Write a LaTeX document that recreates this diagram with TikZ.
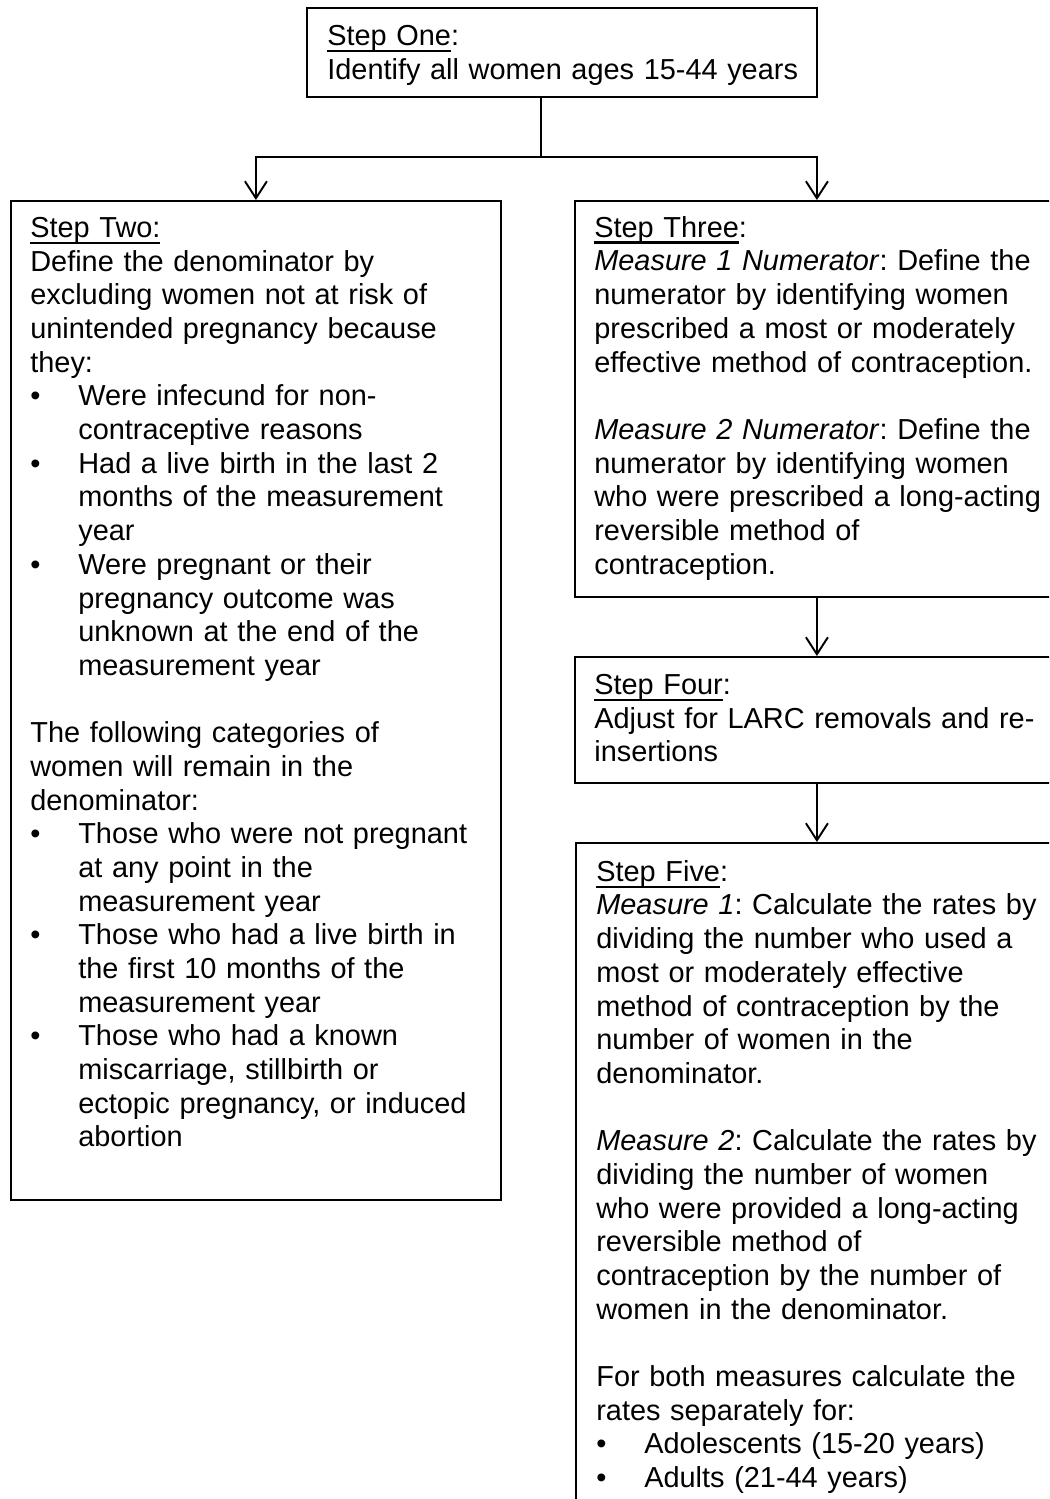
\documentclass[tikz,border=0pt]{standalone}
\usepackage{fontspec}
\setmainfont{Liberation Sans}
\usetikzlibrary{arrows.meta, positioning, calc}

\newcommand{\steplabel}[1]{\setbox0\hbox{#1}\rlap{\rule[-0.22em]{\wd0}{0.075em}}\box0}
\newcommand{\bitem}{\par\noindent\hangindent=0.96cm\hangafter=1\makebox[0.96cm][l]{\textbullet}}
\newcommand{\blankpar}{\par\vspace{\baselineskip}\noindent}

\begin{document}
\begin{tikzpicture}[
    x=0.02cm, y=-0.02cm,
    stepbox/.style={draw, line width=1.1pt, inner sep=0pt, anchor=north west},
    steptext/.style={inner sep=0pt, anchor=north west, align=left, font={\fontsize{16.45pt}{19.17pt}\selectfont\frenchspacing\setlength{\parindent}{0pt}}},
    flow/.style={-{Straight Barb[length=3.4mm, width=4.4mm]}, line width=1.1pt}
]
    \useasboundingbox (0,0) rectangle (1049,1499);
    \clip (0,0) rectangle (1049,1499);

    % Boxes
    \node[stepbox, minimum width=10.2cm, minimum height=1.78cm] (one) at (306,7) {};
    \node[stepbox, minimum width=9.8cm, minimum height=19.98cm] (two) at (10,200) {};
    \node[stepbox, minimum width=9.68cm, minimum height=7.92cm] (three) at (574,200) {};
    \node[stepbox, minimum width=9.68cm, minimum height=2.52cm] (four) at (574,656) {};
    \node[stepbox, minimum width=9.66cm, minimum height=14cm] (five) at (575,842) {};

    % Texts
    \node[steptext, text width=9.6cm] (onetext) at (327,25) {\steplabel{Step One}:\newline
        Identify all women ages 15-44 years\par};
    \node[steptext, text width=9.4cm] (twotext) at (30,217) {\steplabel{Step Two:}\newline
        Define the denominator by\newline
        excluding women not at risk of\newline
        unintended pregnancy because\newline
        they:
        \bitem Were infecund for non-\newline contraceptive reasons
        \bitem Had a live birth in the last 2\newline months of the measurement\newline year
        \bitem Were pregnant or their\newline pregnancy outcome was\newline unknown at the end of the\newline measurement year
        \blankpar The following categories of\newline
        women will remain in the\newline
        denominator:
        \bitem Those who were not pregnant\newline at any point in the\newline measurement year
        \bitem Those who had a live birth in\newline the first 10 months of the\newline measurement year
        \bitem Those who had a known\newline miscarriage, stillbirth or\newline ectopic pregnancy, or induced\newline abortion\par};
    \node[steptext, text width=9.3cm] (threetext) at (594,216) {\steplabel{Step Three}:\newline
        \textit{Measure 1 Numerator}: Define the\newline
        numerator by identifying women\newline
        prescribed a most or moderately\newline
        effective method of contraception.
        \blankpar \textit{Measure 2 Numerator}: Define the\newline
        numerator by identifying women\newline
        who were prescribed a long-acting\newline
        reversible method of\newline
        contraception.\par};
    \node[steptext, text width=9.3cm] (fourtext) at (594,674) {\steplabel{Step Four}:\newline
        Adjust for LARC removals and re-\newline
        insertions\par};
    \node[steptext, text width=9.3cm] (fivetext) at (596,860) {\steplabel{Step Five}:\newline
        \textit{Measure 1}: Calculate the rates by\newline
        dividing the number who used a\newline
        most or moderately effective\newline
        method of contraception by the\newline
        number of women in the\newline
        denominator.
        \blankpar \textit{Measure 2}: Calculate the rates by\newline
        dividing the number of women\newline
        who were provided a long-acting\newline
        reversible method of\newline
        contraception by the number of\newline
        women in the denominator.
        \blankpar For both measures calculate the\newline
        rates separately for:
        \bitem Adolescents (15-20 years)
        \bitem Adults (21-44 years)\par};

    % Connectors
    \coordinate (split) at (541,157);
    \draw[line width=1.1pt] (one.south -| split) -- (split);
    \draw[flow] (split) -| (two.north);
    \draw[flow] (split) -| (three.north);
    \draw[flow] (three.south) -- (three.south |- four.north);
    \draw[flow] (four.south) -- (four.south |- five.north);
\end{tikzpicture}
\end{document}
